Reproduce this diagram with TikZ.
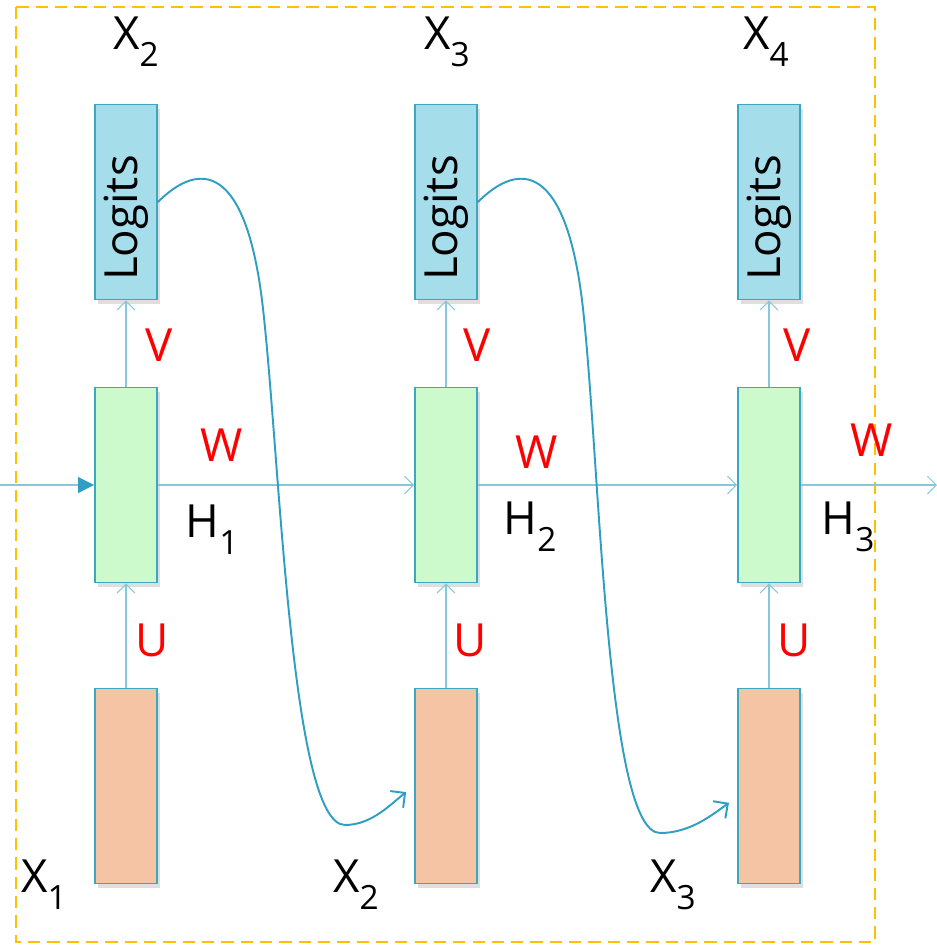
\documentclass[tikz,border=0pt]{standalone}
\usepackage{fontspec}
\setmainfont{Open Sans}
\usetikzlibrary{arrows.meta,shadows}

\definecolor{boxline}{HTML}{3BA7C0}
\definecolor{logitblue}{HTML}{A6DDEA}
\definecolor{hidgreen}{HTML}{CCFACC}
\definecolor{inpeach}{HTML}{F5C4A4}
\definecolor{linkblue}{HTML}{84C8DA}
\definecolor{loopblue}{HTML}{2E9EC2}
\definecolor{frameorange}{HTML}{FFC000}

\newcommand{\sublbl}[2]{#1\raisebox{-0.38em}{\fontsize{19}{20}\selectfont #2}}
\newcommand{\logittext}{\fontsize{26}{28}\selectfont\rotatebox{90}{Logits\hspace{0.64cm}}}

\tikzset{
  cell/.style={draw=boxline, line width=1.1pt, minimum width=1.24cm,
    minimum height=3.9cm, inner sep=0pt,
    drop shadow={opacity=0.25, shadow xshift=1.5pt, shadow yshift=-2.5pt}},
  logit/.style={cell, fill=logitblue},
  hidden/.style={cell, fill=hidgreen},
  input/.style={cell, fill=inpeach},
  link/.style={draw=linkblue, line width=0.6pt, -{Straight Barb[length=5pt,width=10pt]}},
  inlink/.style={draw=linkblue, line width=0.6pt, -{Triangle[length=9pt,width=9pt,color=loopblue]}},
  feed/.style={draw=loopblue, line width=1.1pt, shorten >=0.2cm,
    -{Straight Barb[length=6pt,width=12pt]}},
  wlbl/.style={text=red, font=\fontsize{26}{28}\selectfont},
  blbl/.style={font=\fontsize{26}{28}\selectfont}
}

\begin{document}
\begin{tikzpicture}[x=0.02cm, y=-0.02cm]
\useasboundingbox (0,0) rectangle (937,948);
% dashed frame round the unrolled net
\draw[frameorange, line width=1.1pt, dash pattern=on 7pt off 4pt] (16,7) rectangle (875,942);

% the three time steps
\node[logit] (l1) at (126,202) {\logittext};
\node[logit] (l2) at (446,202) {\logittext};
\node[logit] (l3) at (769,202) {\logittext};
\node[hidden] (h1) at (126,485) {};
\node[hidden] (h2) at (446,485) {};
\node[hidden] (h3) at (769,485) {};
\node[input] (b1) at (126,786) {};
\node[input] (b2) at (446,786) {};
\node[input] (b3) at (769,786) {};

% vertical links
\draw[link] (b1) -- (h1);
\draw[link] (b2) -- (h2);
\draw[link] (b3) -- (h3);
\draw[link] (h1) -- (l1);
\draw[link] (h2) -- (l2);
\draw[link] (h3) -- (l3);

% hidden state chain
\coordinate (hin) at (0,485);
\coordinate (hout) at (937,485);
\draw[inlink] (hin) -- (h1);
\draw[link] (h1) -- (h2);
\draw[link] (h2) -- (h3);
\draw[link] (h3) -- (hout);

% output fed back as next input
\draw[feed] (l1.east) .. controls (200,160) and (245,165) .. (262,300)
  .. controls (280,450) and (290,825) .. (345,825)
  .. controls (372,825) and (392,803) .. (b2.west);
\draw[feed] (l2.east) .. controls (520,160) and (565,165) .. (582,300)
  .. controls (600,450) and (605,833) .. (660,833)
  .. controls (690,833) and (712,815) .. ([yshift=-0.22cm]b3.west);

% weight labels
\node[wlbl] (v1) at (159,345) {V};
\node[wlbl] (v2) at (477,345) {V};
\node[wlbl] (v3) at (797,345) {V};
\node[wlbl] (w1) at (222,445) {W};
\node[wlbl] (w2) at (537,452) {W};
\node[wlbl] (w3) at (872,440) {W};
\node[wlbl] (u1) at (152,640) {U};
\node[wlbl] (u2) at (470,640) {U};
\node[wlbl] (u3) at (794,640) {U};

% state and token labels
\node[blbl] (hl1) at (212,530) {\sublbl{H}{1}};
\node[blbl] (hl2) at (530,527) {\sublbl{H}{2}};
\node[blbl] (hl3) at (848,527) {\sublbl{H}{3}};
\node[blbl] (xt2) at (136,42) {\sublbl{X}{2}};
\node[blbl] (xt3) at (447,42) {\sublbl{X}{3}};
\node[blbl] (xt4) at (766,42) {\sublbl{X}{4}};
\node[blbl] (xb1) at (44,885) {\sublbl{X}{1}};
\node[blbl] (xb2) at (356,885) {\sublbl{X}{2}};
\node[blbl] (xb3) at (673,885) {\sublbl{X}{3}};
\end{tikzpicture}
\end{document}
